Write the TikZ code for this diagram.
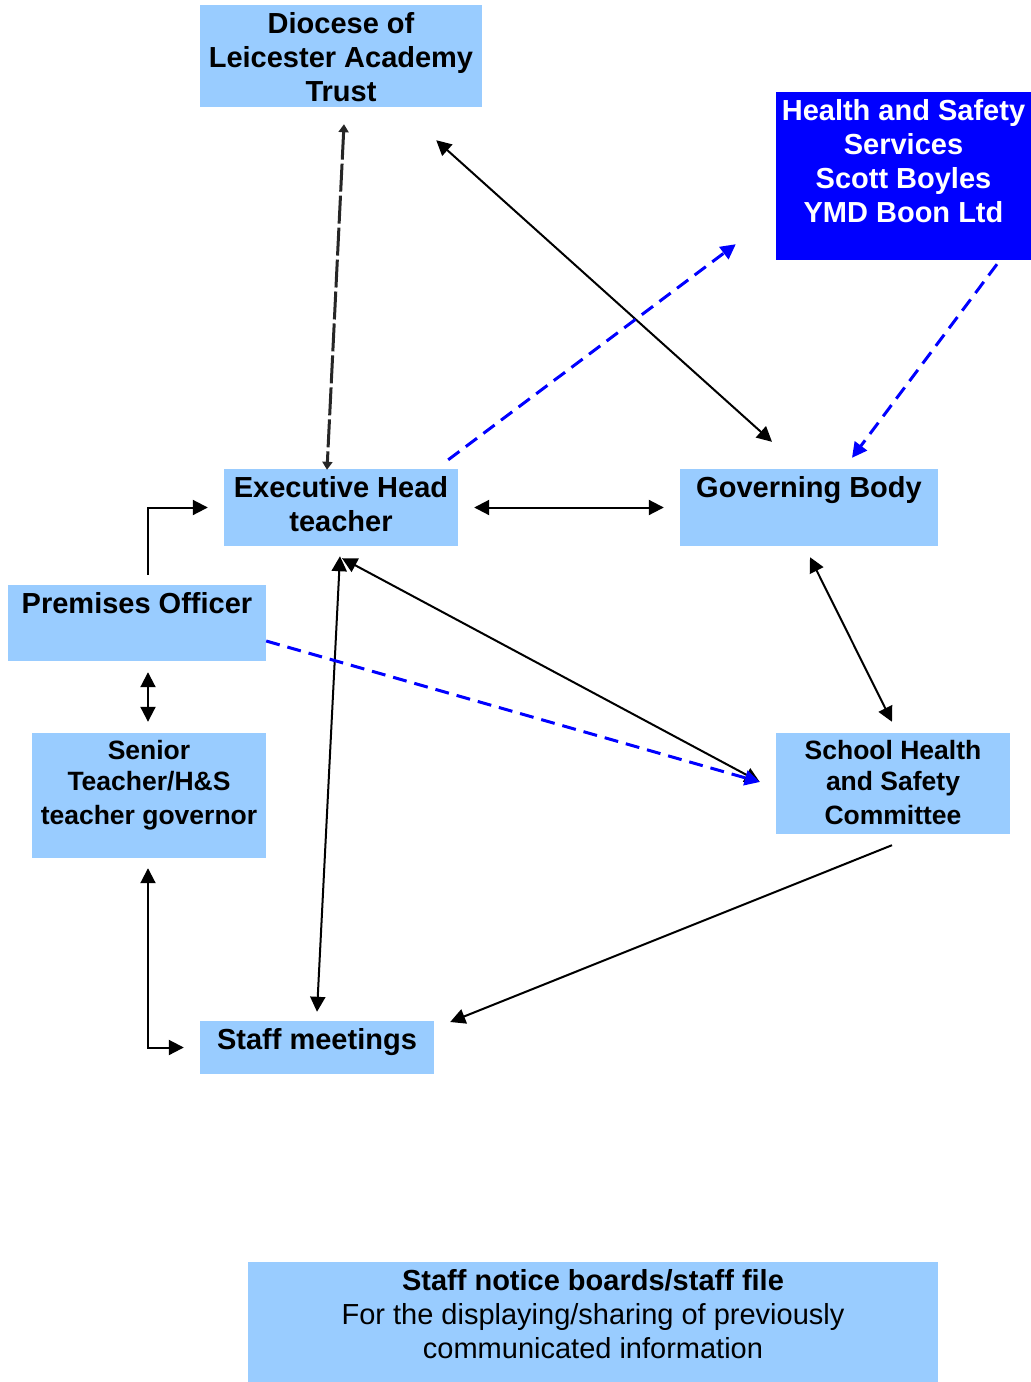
\documentclass[tikz,border=0pt]{standalone}
\usepackage{fontspec}
\setmainfont{Liberation Sans}
\usetikzlibrary{arrows.meta}
\definecolor{boxblue}{HTML}{99CCFF}
\definecolor{hsblue}{HTML}{0000FF}
\begin{document}
\begin{tikzpicture}[x=1pt,y=-1pt,
  box/.style 2 args={fill=boxblue, inner sep=0pt, minimum width=#1, minimum height=#2,
    execute at begin node={\begin{minipage}[c][#2][t]{#1}\centering\vspace*{7pt}\fontsize{29}{34}\selectfont\bfseries},
    execute at end node={\end{minipage}}},
  >={Triangle[length=15pt,width=15pt]},
  link/.style={line width=2pt},
  hsline/.style={hsblue, line width=3pt, dash pattern=on 14pt off 8pt},
  dioline/.style={line width=3pt, black!85, dash pattern=on 28pt off 4pt,
    arrows={Triangle[length=8pt,width=10pt]-Triangle[length=8pt,width=10pt]}}]
    \useasboundingbox (0,0) rectangle (1031,1382);
    \node[box={282pt}{102pt}] (dio) at (341,56) {Diocese of\\Leicester Academy\\Trust};
    \node[box={255pt}{168pt}, fill=hsblue, text=white] (hss) at (903.5,176) {Health and Safety\\Services\\Scott Boyles\\YMD Boon Ltd};
    \node[box={234pt}{77pt}] (exec) at (341,507.5) {Executive Head\\teacher};
    \node[box={258pt}{77pt}] (gov) at (809,507.5) {Governing Body};
    \node[box={258pt}{76pt}] (prem) at (137,623) {Premises Officer};
    \node[box={234pt}{125pt}] (senior) at (149,795.5) {\fontsize{26.5}{31}\selectfont Senior\\Teacher/H\&S\\teacher governor};
    \node[box={234pt}{101pt}] (school) at (893,783.5) {\fontsize{26.5}{31}\selectfont School Health\\and Safety\\Committee};
    \node[box={234pt}{53pt}] (staff) at (317,1047.5) {Staff meetings};
    \node[box={690pt}{120pt}] (notice) at (593,1322) {Staff notice boards/staff file\\\mdseries For the displaying/sharing of previously\\communicated information};
    \draw[dioline] ([shift={(3,17)}]dio.south) -- ([shift={(-14,1)}]exec.north);
    \draw[link,<->] ([shift={(-46,33)}]dio.south east) -- ([shift={(-37,-27)}]gov.north);
    \draw[hsline,->] ([shift={(-10,-9)}]exec.north east) -- ([shift={(-40,-16)}]hss.south west);
    \draw[hsline,->] ([shift={(93.5,4)}]hss.south) -- ([shift={(43,-11)}]gov.north);
    \draw[link,<->] ([xshift=16]exec.east) -- ([xshift=-16]gov.west);
    \draw[link,->] ([shift={(11,-10)}]prem.north) |- ([xshift=-16]exec.west);
    \draw[link,<->] ([shift={(11,11)}]prem.south) -- ([shift={(-1,-11)}]senior.north);
    \draw[link,<->] ([shift={(-1,10)}]senior.south) |- ([xshift=-16]staff.west);
    \draw[link,<->] ([shift={(-1,10)}]exec.south) -- ([shift={(0,-9)}]staff.north);
    \draw[link,<->] ([shift={(1,12)}]exec.south) -- ([shift={(-16,-1.5)}]school.west);
    \draw[hsline,->] ([shift={(0,18)}]prem.east) -- ([shift={(-16,-1.5)}]school.west);
    \draw[link,<->] ([shift={(1,11)}]gov.south) -- ([shift={(-1,-11)}]school.north);
    \draw[link,->] ([shift={(-1,11)}]school.south) -- ([shift={(16,-25.5)}]staff.east);
\end{tikzpicture}
\end{document}
